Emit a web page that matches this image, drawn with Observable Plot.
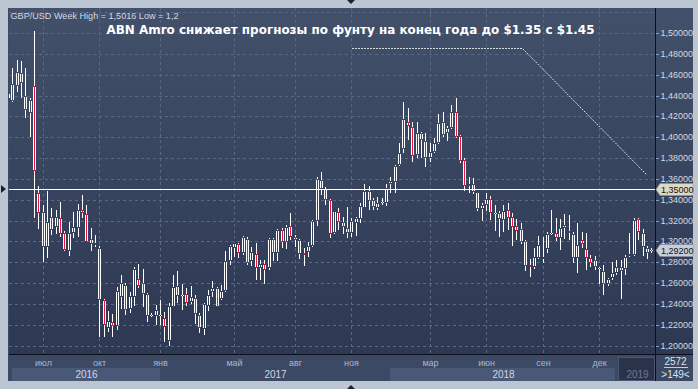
<!DOCTYPE html>
<html><head><meta charset="utf-8">
<script src="https://cdn.jsdelivr.net/npm/d3@7"></script>
<script src="https://cdn.jsdelivr.net/npm/@observablehq/plot@0.6"></script>
<style>
html,body{margin:0;padding:0;background:#bcc6d3;overflow:hidden}
#chart{position:relative;width:698px;height:389px}
</style></head><body><div id="chart"></div>
<script>
// Weekly GBP/USD candles, oldest first
const opens = [1.4370,1.4347,1.4495,1.4613,1.4395,1.4229,1.4491,1.3461,1.3285,1.2949,1.3237,1.3141,1.3222,1.3078,1.2908,1.3078,1.3132,1.3301,1.3260,1.3023,1.2965,1.2940,1.2438,1.2166,1.2224,1.2191,1.2469,1.2582,1.2348,1.2469,1.2636,1.2598,1.2495,1.2285,1.2287,1.2285,1.2262,1.2047,1.2373,1.2572,1.2479,1.2492,1.2422,1.2454,1.2294,1.2159,1.2383,1.2517,1.2556,1.2444,1.2527,1.2815,1.2934,1.2972,1.2886,1.3023,1.2815,1.2876,1.2742,1.2780,1.2742,1.3020,1.2886,1.3109,1.2997,1.3151,1.3045,1.3013,1.2886,1.2901,1.2959,1.3196,1.3589,1.3503,1.3397,1.3084,1.3279,1.3183,1.3126,1.3078,1.3174,1.3212,1.3323,1.3484,1.3397,1.3318,1.3365,1.3366,1.3555,1.3567,1.3733,1.3884,1.4146,1.4095,1.3829,1.4037,1.3966,1.3803,1.3855,1.3941,1.4149,1.4037,1.4091,1.4239,1.4012,1.3781,1.3535,1.3548,1.3471,1.3308,1.3349,1.3404,1.3263,1.3270,1.3205,1.3301,1.3231,1.3148,1.3116,1.3004,1.2774,1.2757,1.2838,1.2831,1.2924,1.3071,1.3084,1.3030,1.3126,1.3100,1.3071,1.2838,1.3013,1.2927,1.2838,1.2821,1.2741,1.2719,1.2591,1.2646,1.2700,1.2757,1.2732,1.2860,1.2869,1.3212,1.3084,1.2934,1.2905];
const highs = [1.4440,1.4667,1.4741,1.4731,1.4667,1.4373,1.5016,1.3532,1.3349,1.3484,1.3318,1.3301,1.3381,1.3100,1.3189,1.3279,1.3356,1.3445,1.3349,1.3132,1.3061,1.2959,1.2447,1.2332,1.2300,1.2565,1.2678,1.2604,1.2517,1.2751,1.2783,1.2735,1.2502,1.2316,1.2390,1.2438,1.2325,1.2412,1.2678,1.2716,1.2591,1.2550,1.2572,1.2486,1.2310,1.2412,1.2534,1.2620,1.2565,1.2582,1.2908,1.2965,1.2988,1.2982,1.3052,1.3039,1.2949,1.2982,1.2822,1.2822,1.3036,1.3030,1.3116,1.3126,1.3157,1.3270,1.3061,1.3023,1.2934,1.2997,1.3205,1.3621,1.3669,1.3525,1.3407,1.3295,1.3318,1.3237,1.3333,1.3222,1.3237,1.3366,1.3548,1.3535,1.3414,1.3423,1.3414,1.3551,1.3621,1.3733,1.3941,1.4341,1.4277,1.4149,1.4149,1.4053,1.4037,1.3941,1.3989,1.4223,1.4245,1.4107,1.4309,1.4379,1.4021,1.3797,1.3615,1.3606,1.3477,1.3366,1.3468,1.3436,1.3349,1.3295,1.3349,1.3371,1.3275,1.3212,1.3174,1.3013,1.2828,1.2934,1.3052,1.3045,1.3093,1.3301,1.3222,1.3212,1.3263,1.3253,1.3093,1.3174,1.3093,1.3084,1.2869,1.2860,1.2751,1.2774,1.2646,1.2805,1.2821,1.2821,1.2869,1.3084,1.3222,1.3222,1.3116,1.2956,1.2934];
const lows = [1.4355,1.4335,1.4437,1.4379,1.4181,1.4005,1.3228,1.3119,1.2799,1.2844,1.3061,1.3068,1.3045,1.2908,1.2863,1.3036,1.3045,1.3222,1.2990,1.2908,1.2949,1.2085,1.2085,1.2134,1.2085,1.2150,1.2348,1.2294,1.2310,1.2380,1.2550,1.2373,1.2229,1.2271,1.2198,1.2198,1.2037,1.1999,1.2370,1.2406,1.2342,1.2380,1.2399,1.2207,1.2118,1.2102,1.2335,1.2469,1.2368,1.2438,1.2517,1.2774,1.2847,1.2838,1.2869,1.2774,1.2764,1.2630,1.2630,1.2588,1.2726,1.2815,1.2815,1.2934,1.2924,1.3013,1.2943,1.2828,1.2764,1.2853,1.2949,1.3148,1.3445,1.3349,1.3030,1.3071,1.3109,1.3068,1.3036,1.3045,1.3052,1.3180,1.3323,1.3301,1.3301,1.3301,1.3349,1.3340,1.3468,1.3468,1.3724,1.3845,1.3973,1.3765,1.3797,1.3797,1.3711,1.3765,1.3845,1.3935,1.4005,1.3966,1.4076,1.3990,1.3750,1.3487,1.3462,1.3455,1.3295,1.3199,1.3295,1.3205,1.3103,1.3045,1.3093,1.3109,1.2956,1.3013,1.2975,1.2719,1.2661,1.2732,1.2828,1.2790,1.2892,1.3061,1.3007,1.2917,1.3020,1.3013,1.2790,1.2694,1.2934,1.2726,1.2751,1.2726,1.2591,1.2486,1.2572,1.2630,1.2678,1.2444,1.2678,1.2847,1.2860,1.3013,1.2860,1.2828,1.2892];
const closes = [1.4420,1.4507,1.4623,1.4517,1.4261,1.4357,1.3679,1.3270,1.2949,1.3189,1.3109,1.3231,1.3068,1.2917,1.3078,1.3141,1.3301,1.3270,1.2997,1.2972,1.2988,1.2438,1.2198,1.2236,1.2191,1.2524,1.2598,1.2342,1.2476,1.2735,1.2572,1.2492,1.2287,1.2297,1.2342,1.2295,1.2181,1.2380,1.2565,1.2479,1.2490,1.2412,1.2463,1.2300,1.2166,1.2399,1.2486,1.2556,1.2373,1.2527,1.2812,1.2956,1.2982,1.2886,1.3045,1.2796,1.2895,1.2742,1.2780,1.2726,1.3023,1.2886,1.3109,1.2997,1.3135,1.3039,1.3013,1.2876,1.2870,1.2956,1.3196,1.3596,1.3503,1.3397,1.3068,1.3292,1.3189,1.3135,1.3078,1.3196,1.3227,1.3340,1.3484,1.3388,1.3327,1.3366,1.3375,1.3510,1.3575,1.3726,1.3852,1.4172,1.4111,1.3822,1.4043,1.3973,1.3797,1.3861,1.3941,1.4139,1.4021,1.4085,1.4239,1.3999,1.3775,1.3535,1.3548,1.3477,1.3308,1.3349,1.3407,1.3275,1.3275,1.3212,1.3292,1.3227,1.3135,1.3103,1.2997,1.2767,1.2751,1.2847,1.2965,1.2847,1.3071,1.3081,1.3030,1.3126,1.3157,1.3078,1.2838,1.2965,1.2972,1.2838,1.2796,1.2751,1.2732,1.2591,1.2636,1.2700,1.2751,1.2719,1.2847,1.2879,1.3205,1.3093,1.2943,1.2886,1.2920];

// Axis / annotation values
const monthTickIdx = [8, 21, 35, 52, 66, 79, 97, 110, 123, 136];
const monthLabels = ["июл","окт","янв","май","авг","ноя","мар","июн","сен","дек"];
const yearNames = ["2016","2017","2018","2019"];
const yearFrom = [0.9, 35, 87.9, 140.4];
const yearTo = [35, 87.9, 139.7, 148.87];
const yearShade = ["#4a5877", "none", "#4a5877", "#2a3349"];
const yTicks = [1.20,1.22,1.24,1.26,1.28,1.30,1.32,1.34,1.36,1.38,1.40,1.42,1.44,1.46,1.48,1.50];
const gridLevels = [1.20,1.22,1.24,1.26,1.28,1.30,1.32,1.34,1.36,1.38,1.40,1.42,1.44,1.46,1.48,1.50,1.52];
const lineLevel = [1.35];
const priceTags = [1.35, 1.292];
const tagFill = ["#ddd8c2", "#c9cdd6"];
const annotX = [79.2, 118.2, 146.8];
const annotY = [1.4859, 1.4859, 1.3647];
const titleText = "GBP/USD Week High = 1,5016 Low = 1,2";
const headline = "ABN Amro снижает прогнозы по фунту на конец года до $1.35 с $1.45";
const barsCount = ["2572", ">149<"];

const candles = opens.map((o, i) => ({i, o, h: highs[i], l: lows[i], c: closes[i], up: closes[i] >= o,
  lo: Math.min(o, closes[i]), hi: Math.max(o, closes[i])}));
const annot = annotX.map((x, k) => ({x, y: annotY[k]}));
const years = yearNames.map((year, k) => ({year, from: yearFrom[k], to: yearTo[k], shade: yearShade[k]}));
const fmt = d => d.toFixed(5).replace(".", ",");
const FONT = "Liberation Sans, Arial, sans-serif";

const W = 698, H = 389;
const M = {left: 9, right: 43, top: 8, bottom: 35};

function chrome(index, scales, values, dims) {
  const {width, height, marginLeft, marginRight, marginTop, marginBottom} = dims;
  const fr = width - marginRight, fb = height - marginBottom;
  const g = d3.create("svg:g");
  const defs = g.append("defs");
  const lg = defs.append("linearGradient").attr("id", "plotbg").attr("gradientUnits", "userSpaceOnUse")
    .attr("x1", 0).attr("y1", marginTop).attr("x2", 0).attr("y2", fb);
  lg.append("stop").attr("offset", 0).attr("stop-color", "#425069");
  lg.append("stop").attr("offset", 1).attr("stop-color", "#2d3853");
  g.append("rect").attr("x", marginLeft - 1).attr("y", marginTop).attr("width", fr + 38 - marginLeft + 1).attr("height", fb + 27 - marginTop).attr("fill", "#3c4965");
  g.append("rect").attr("x", marginLeft).attr("y", marginTop).attr("width", fr - marginLeft).attr("height", fb - marginTop).attr("fill", "url(#plotbg)");
  g.append("rect").attr("x", fr).attr("y", marginTop).attr("width", 38).attr("height", fb - marginTop).attr("fill", "url(#plotbg)");
  for (const d of years) {
    if (d.shade === "none") continue;
    const x1 = scales.x(d.from), x2 = scales.x(d.to);
    if (d.year === "2019") {
      g.append("rect").attr("x", x1 + 0.5).attr("y", fb + 3.5).attr("width", fr - x1 - 1).attr("height", 23).attr("fill", d.shade).attr("stroke", "#4a5672");
    } else {
      g.append("rect").attr("x", x1).attr("y", fb + 14).attr("width", x2 - x1).attr("height", 13).attr("fill", d.shade);
    }
  }
  g.append("line").attr("x1", fr + 0.5).attr("x2", fr + 0.5).attr("y1", marginTop).attr("y2", fb + 27).attr("stroke", "#0d1018");
  g.append("line").attr("x1", marginLeft).attr("x2", fr + 38).attr("y1", fb + 0.5).attr("y2", fb + 0.5).attr("stroke", "#0d1018");
  g.append("line").attr("x1", fr + 9).attr("x2", fr + 33).attr("y1", fb + 13.5).attr("y2", fb + 13.5).attr("stroke", "#c3cad8");
  const cy = scales.y(lineLevel[0]);
  g.append("path").attr("d", `M1,${cy - 4}L6,${cy}L1,${cy + 4}Z`).attr("fill", "#1b2130");
  g.append("path").attr("d", `M347,0L355,0L351,4Z`).attr("fill", "#1b2130");
  g.append("path").attr("d", `M347,${height}L355,${height}L351,${height - 4}Z`).attr("fill", "#1b2130");
  return g.node();
}

function yTickMarks(index, scales, values, dims) {
  const fr = dims.width - dims.marginRight;
  const g = d3.create("svg:g");
  for (const v of yTicks) {
    const y = Math.round(scales.y(v)) + 0.5;
    g.append("line").attr("x1", fr + 1).attr("x2", fr + 4).attr("y1", y).attr("y2", y).attr("stroke", "#8c9cbb");
  }
  return g.node();
}

function tags(index, scales, values, dims) {
  const fr = dims.width - dims.marginRight;
  const g = d3.create("svg:g");
  priceTags.forEach((v, k) => {
    const y = Math.round(scales.y(v)) + 0.5;
    g.append("path").attr("d", `M${fr + 1},${y}L${fr + 5},${y - 6}L${fr + 38},${y - 6}L${fr + 38},${y + 6}L${fr + 5},${y + 6}Z`)
      .attr("fill", tagFill[k]).attr("stroke", "#8a90a0").attr("stroke-width", 0.5);
    g.append("text").attr("x", fr + 6).attr("y", y).attr("dy", "0.34em").attr("fill", "#111")
      .attr("text-anchor", "start").attr("font-size", 9).attr("font-family", FONT).text(fmt(v));
  });
  return g.node();
}

const plot = Plot.plot({
  width: W, height: H,
  marginLeft: M.left, marginRight: M.right, marginTop: M.top, marginBottom: M.bottom,
  style: {background: "transparent", color: "#cdd5e3", fontFamily: FONT, fontSize: "9px", overflow: "visible"},
  x: {domain: [0.23, 148.87], axis: null, round: true},
  y: {domain: [1.19194, 1.52399], axis: null, round: true},
  marks: [
    chrome,
    Plot.ruleY(gridLevels, {stroke: "#5a6885", strokeDasharray: "3,3"}),
    Plot.ruleX(monthTickIdx, {stroke: "#5a6885", strokeDasharray: "3,3"}),
    Plot.line(annot, {x: "x", y: "y", stroke: "#e4e7ee", strokeDasharray: "1,2", strokeWidth: 1}),
    Plot.ruleX(candles, {x: "i", y1: "l", y2: "h", stroke: "white", strokeWidth: 1, clip: true}),
    Plot.ruleX(candles, {x: "i", y1: "lo", y2: "hi", stroke: "white", strokeWidth: 3, insetTop: -1, insetBottom: -1, clip: true}),
    Plot.ruleX(candles.filter(d => d.up), {x: "i", y1: "lo", y2: "hi", stroke: "url(#plotbg)", strokeWidth: 1, clip: true}),
    Plot.ruleX(candles.filter(d => !d.up), {x: "i", y1: "lo", y2: "hi", stroke: "#e3173e", strokeWidth: 1, clip: true}),
    Plot.ruleY(lineLevel, {stroke: "white", strokeWidth: 1}),
    yTickMarks,
    Plot.text(yTicks, {y: d => d, text: fmt, frameAnchor: "right", dx: 5, textAnchor: "start", fill: "#d2d9e6"}),
    Plot.text(monthTickIdx, {x: d => d, text: (d, i) => monthLabels[i], frameAnchor: "bottom", lineAnchor: "middle", dy: 9, fill: "#a9b7cf"}),
    Plot.text(years, {x: d => (d.from + d.to) / 2, text: "year", frameAnchor: "bottom", lineAnchor: "middle", dy: 20, fill: d => d.year === "2019" ? "#6d7890" : "#cfd6e3", fontSize: 10}),
    Plot.text([barsCount[0]], {text: d => d, frameAnchor: "bottom-right", lineAnchor: "middle", dx: 20, dy: 7, textAnchor: "middle", fill: "#dfe4ec", fontSize: 10}),
    Plot.text([barsCount[1]], {text: d => d, frameAnchor: "bottom-right", lineAnchor: "middle", dx: 20, dy: 20, textAnchor: "middle", fill: "#dfe4ec", fontSize: 10}),
    Plot.text([titleText], {text: d => d, frameAnchor: "top-left", lineAnchor: "middle", dx: 1, dy: 7, textAnchor: "start", fill: "#d3d9e4", fontSize: 9.5, className: "ttl"}),
    Plot.text([headline], {text: d => d, frameAnchor: "top-left", lineAnchor: "middle", dx: 97, dy: 22, textAnchor: "start", fill: "white", fontSize: 11.5, fontWeight: "bold", fontFamily: "DejaVu Sans", className: "hl"}),
    tags
  ]
});
document.getElementById("chart").appendChild(plot);
d3.select(plot).selectAll(".hl text").attr("textLength", 488).attr("lengthAdjust", "spacingAndGlyphs");
d3.select(plot).selectAll(".ttl text").attr("textLength", 168).attr("lengthAdjust", "spacingAndGlyphs");
</script></body></html>
